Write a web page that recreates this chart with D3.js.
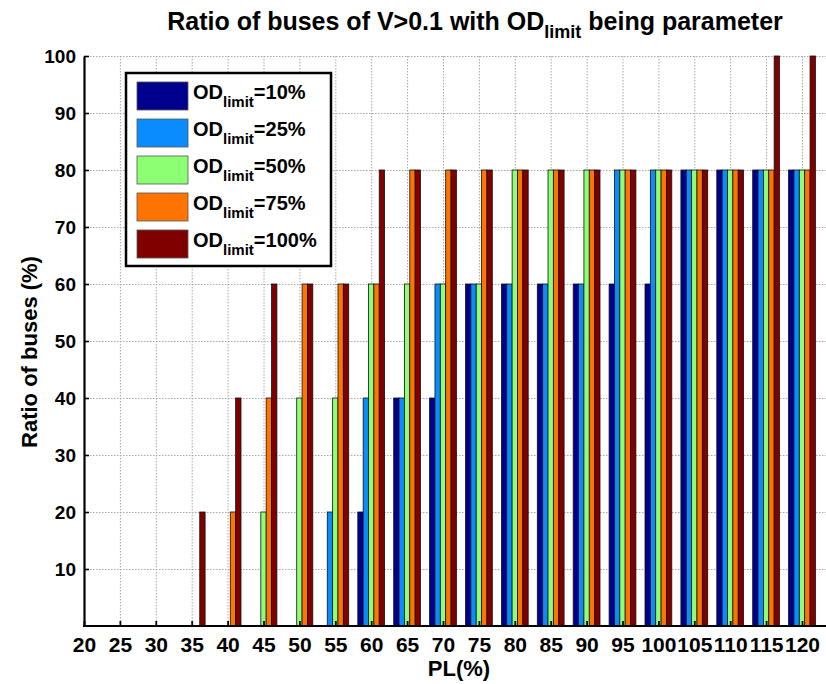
<!DOCTYPE html>
<html>
<head>
<meta charset="utf-8">
<script src="https://cdn.jsdelivr.net/npm/d3@7"></script>
<style>
  body { margin: 0; background: #fff; }
  text { font-family: "Liberation Sans", Arial, sans-serif; fill: #000; }
</style>
</head>
<body>
<script>
// PL(%) categories on the x axis
const plLabels = ["20","25","30","35","40","45","50","55","60","65","70","75","80","85","90","95","100","105","110","115","120"];
const odNames = ["10%","25%","50%","75%","100%"];
const odColors = ["#00008f","#0a8cff","#8cff73","#ff7300","#800000"];

// ratio of buses (%) for each OD_limit
const od10  = [0,0,0,0,0,0,0,0,20,40,40,60,60,60,60,60,60,80,80,80,80];
const od25  = [0,0,0,0,0,0,0,20,40,40,60,60,60,60,60,80,80,80,80,80,80];
const od50  = [0,0,0,0,0,20,40,40,60,60,60,60,80,80,80,80,80,80,80,80,80];
const od75  = [0,0,0,0,20,40,60,60,60,80,80,80,80,80,80,80,80,80,80,80,80];
const od100 = [0,0,0,20,40,60,60,60,80,80,80,80,80,80,80,80,80,80,80,100,100];
const yTicks = [10,20,30,40,50,60,70,80,90,100];

const series = [od10, od25, od50, od75, od100];

const margin = {top: 56, left: 84};
const width = 742;   // plot runs off the right edge of the picture
const height = 570;

const svg = d3.select("body").append("svg")
  .attr("width", 826)
  .attr("height", 684);

const x = d3.scalePoint().domain(plLabels).range([0, 718]);
const inner = d3.scaleBand().domain(odNames).range([-13.4, 13.4]);
const y = d3.scaleLinear().domain([0, 100]).range([height, 0]);

const chartGroup = svg.append("g").attr("transform", "translate(" + margin.left + "," + margin.top + ")");

//grid
const grid = chartGroup.append("g").attr("class", "grid")
  .attr("stroke", "#a8a8a8").attr("stroke-width", 1).attr("stroke-dasharray", "1.5,1.5");
grid.selectAll("line.v").data(plLabels.slice(1)).enter().append("line")
  .attr("class", "v")
  .attr("x1", d => x(d) + 0.5).attr("x2", d => x(d) + 0.5)
  .attr("y1", 0).attr("y2", height);
grid.selectAll("line.h").data(yTicks).enter().append("line")
  .attr("class", "h")
  .attr("x1", 0).attr("x2", width)
  .attr("y1", d => y(d) + 0.5).attr("y2", d => y(d) + 0.5);

//draw bars
series.forEach((vals, j) => {
  chartGroup.append("g").selectAll("rect")
    .data(vals.map((v, i) => ({pl: plLabels[i], v: v})).filter(d => d.v > 0))
    .enter().append("rect")
      .attr("fill", odColors[j])
      .attr("stroke", "#111")
      .attr("stroke-width", 0.8)
      .attr("x", d => x(d.pl) + inner(odNames[j]))
      .attr("width", inner.bandwidth())
      .attr("y", d => y(d.v))
      .attr("height", d => height - y(d.v));
});

//axes
const yAxis = d3.axisLeft(y).tickValues(yTicks).tickSizeInner(-5).tickSizeOuter(0).tickPadding(8);
const xAxis = d3.axisBottom(x).tickSizeInner(-5).tickSizeOuter(0).tickPadding(11);

const gy = chartGroup.append("g").attr("class", "axis y").call(yAxis);
gy.select(".domain").attr("stroke-width", 2.2);
gy.selectAll(".tick line").attr("stroke-width", 1.6);
gy.selectAll("text").style("font-size", "19px").style("font-weight", "bold").attr("fill", "#000");

const gx = chartGroup.append("g").attr("class", "axis x").attr("transform", "translate(0," + height + ")").call(xAxis);
gx.select(".domain").remove();
gx.selectAll(".tick line").attr("stroke-width", 1.8);
gx.selectAll("text").style("font-size", "21px").style("font-weight", "bold").attr("fill", "#000");
gx.append("line").attr("x1", -1).attr("x2", width).attr("y1", 0).attr("y2", 0)
  .attr("stroke", "#000").attr("stroke-width", 2.2);

//legend
const legend = svg.append("g").attr("transform", "translate(126,73)");
legend.append("rect").attr("width", 205).attr("height", 193)
  .attr("fill", "#fff").attr("stroke", "#000").attr("stroke-width", 2.5);
odNames.forEach((name, i) => {
  legend.append("rect")
    .attr("x", 11).attr("y", 9 + 37 * i).attr("width", 51).attr("height", 28)
    .attr("fill", odColors[i]).attr("stroke", "#555").attr("stroke-width", 0.8);
  const t = legend.append("text").attr("x", 67).attr("y", 26 + 37 * i)
    .style("font-size", "20px").style("font-weight", "bold");
  t.append("tspan").text("OD");
  t.append("tspan").attr("dy", 8).style("font-size", "15px").text("limit");
  t.append("tspan").attr("dy", -8).text("=" + name);
});

//title and labels
const title = svg.append("text").attr("x", 475).attr("y", 30)
  .attr("text-anchor", "middle").style("white-space", "pre")
  .style("font-size", "25px").style("font-weight", "bold");
title.append("tspan").text("Ratio of buses of V>0.1 with OD");
title.append("tspan").attr("dy", 8).style("font-size", "18px").text("limit");
title.append("tspan").attr("dy", -8).text(" being parameter");

svg.append("text").attr("x", 459).attr("y", 676).attr("text-anchor", "middle")
  .style("font-size", "22px").style("font-weight", "bold").text("PL(%)");

svg.append("text").attr("transform", "translate(37,352) rotate(-90)").attr("text-anchor", "middle")
  .style("font-size", "22px").style("font-weight", "bold").text("Ratio of buses (%)");
</script>
</body>
</html>
